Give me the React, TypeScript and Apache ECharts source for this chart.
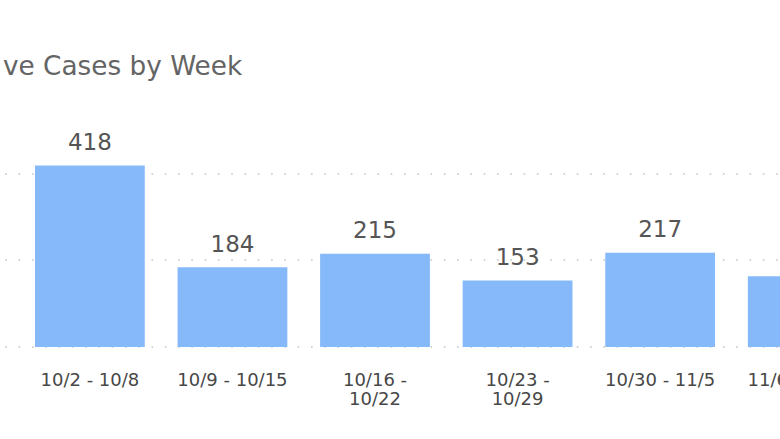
import React, { useEffect, useRef } from "react";
import * as echarts from "echarts";

const titleText = "ve Cases by Week";
const categories = ["10/2 - 10/8", "10/9 - 10/15", "10/16 - 10/22", "10/23 - 10/29", "10/30 - 11/5", "11/6 - 11/12"];
const cases = [418, 184, 215, 153, 217, 163];
const yMin = 0;
const yMax = 500;
const yInterval = 200;

const FONT = "DejaVu Sans";

export default function App() {
  const ref = useRef<HTMLDivElement>(null);
  useEffect(() => {
    if (!ref.current) return;
    const chart = echarts.init(ref.current, null, { renderer: "svg" });
    const gridTop = 130;
    const gridBottom = 92;
    chart.setOption({
      animation: false,
      backgroundColor: "#ffffff",
      title: {
        text: titleText,
        left: -2,
        top: 48,
        textStyle: { fontFamily: FONT, fontSize: 26.3, fontWeight: "normal", color: "#646464" },
      },
      grid: [
        { left: 18.6, right: -94, top: gridTop, bottom: gridBottom, outerBoundsMode: "none", containLabel: false },
        { left: 0, right: 0, top: gridTop, bottom: gridBottom, outerBoundsMode: "none" },
      ],
      xAxis: [
        {
          type: "category",
          gridIndex: 0,
          data: categories,
          axisLine: { show: false },
          axisTick: { show: false },
          axisLabel: {
            interval: 0,
            margin: 23,
            fontFamily: FONT,
            fontSize: 18,
            lineHeight: 19,
            color: "#474747",
            formatter: (v: string) => (v.length > 12 ? v.replace(" - ", " -\n") : v),
          },
          splitLine: { show: false },
        },
        {
          type: "value",
          gridIndex: 1,
          show: false,
          min: 0,
          max: 1,
        },
      ],
      yAxis: [
        {
          type: "value",
          gridIndex: 0,
          min: yMin,
          max: yMax,
          interval: yInterval,
          show: false,
          splitLine: { show: false },
        },
        {
          type: "value",
          gridIndex: 1,
          min: yMin,
          max: yMax,
          interval: yInterval,
          axisLine: { show: false },
          axisTick: { show: false },
          axisLabel: { show: false },
          splitLine: {
            show: true,
            showMaxLine: false,
            lineStyle: { color: "#c4c4c4", width: 1.6, type: [1.6, 11.69], dashOffset: 8.3 },
          },
        },
      ],
      series: [
        {
          type: "bar",
          xAxisIndex: 0,
          yAxisIndex: 0,
          data: cases,
          barCategoryGap: "23%",
          itemStyle: { color: "#85B9F9" },
          label: {
            show: true,
            position: "top",
            distance: 12,
            fontFamily: FONT,
            fontSize: 23,
            color: "#555555",
          },
          z: 3,
        },
      ],
    });
    return () => chart.dispose();
  }, []);
  return <div ref={ref} style={{ width: 780, height: 439, position: "absolute", left: 0, top: 0 }} />;
}
